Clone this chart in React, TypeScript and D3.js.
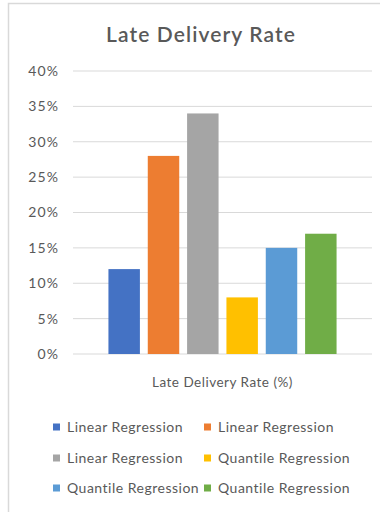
import React from "react";
import * as d3 from "d3";

const categories = ["Late Delivery Rate (%)"];
const seriesNames = [
  "Linear Regression",
  "Linear Regression",
  "Linear Regression",
  "Quantile Regression",
  "Quantile Regression",
  "Quantile Regression",
];
const seriesValues = [12, 28, 34, 8, 15, 17];
const seriesColors = ["#4472C4", "#ED7D31", "#A5A5A5", "#FFC000", "#5B9BD5", "#70AD47"];
const yTicks = [0, 5, 10, 15, 20, 25, 30, 35, 40];

const W = 380;
const H = 512;
const FONT = "Lato, 'Open Sans', sans-serif";
const TEXT = "#595959";

export default function App() {
  const plotLeft = 73;
  const plotRight = 372;
  const plotTop = 71;
  const plotBottom = 354;

  const y = d3.scaleLinear().domain([0, 40]).range([plotBottom, plotTop]);
  const xCat = d3
    .scaleBand<string>()
    .domain(categories)
    .range([plotLeft, plotRight])
    .paddingInner(0)
    .paddingOuter(0.1335);
  const cat = categories[0];
  const x0 = xCat(cat) as number;
  const xSer = d3
    .scaleBand<number>()
    .domain(seriesValues.map((_, i) => i))
    .range([x0, x0 + xCat.bandwidth()])
    .paddingInner(0.2)
    .paddingOuter(0.1);

  const legendCols = [53, 204];
  const legendRows = [427, 458, 488];
  const tickLs = 1.2;

  return (
    <svg
      width={W}
      height={H}
      style={{ position: "absolute", left: 0, top: 0, background: "#fff" }}
      fontFamily={FONT}
    >
      <rect x={0} y={0} width={W} height={H} fill="#fff" />
      <rect x={8.5} y={3.5} width={W + 10} height={H + 10} fill="none" stroke="#d9d9d9" strokeWidth={1.5} />
      <text x={201} y={42} textAnchor="middle" fontSize={21} fontWeight={600} letterSpacing={1.1} fill={TEXT}>
        Late Delivery Rate
      </text>
      {yTicks.map((t) => (
        <g key={t}>
          <line x1={plotLeft} x2={plotRight} y1={y(t)} y2={y(t)} stroke="#d9d9d9" strokeWidth={1} />
          <text x={58 + tickLs} y={y(t)} dy="0.35em" textAnchor="end" fontSize={14} letterSpacing={tickLs} fill={TEXT}>
            {t}%
          </text>
        </g>
      ))}
      {seriesValues.map((v, i) => (
        <rect
          key={i}
          x={xSer(i) as number}
          y={y(v)}
          width={xSer.bandwidth()}
          height={y(0) - y(v)}
          fill={seriesColors[i]}
        />
      ))}
      <text
        x={x0 + xCat.bandwidth() / 2}
        y={382}
        dy="0.35em"
        textAnchor="middle"
        fontSize={13.5}
        letterSpacing={0.5}
        fill={TEXT}
      >
        {cat}
      </text>
      {seriesNames.map((n, i) => {
        const cx = legendCols[i % 2];
        const cy = legendRows[Math.floor(i / 2)];
        return (
          <g key={i}>
            <rect x={cx} y={cy - 3.5} width={7} height={7} fill={seriesColors[i]} />
            <text x={cx + 14} y={cy} dy="0.35em" fontSize={14} letterSpacing={0.5} fill={TEXT}>
              {n}
            </text>
          </g>
        );
      })}
    </svg>
  );
}
